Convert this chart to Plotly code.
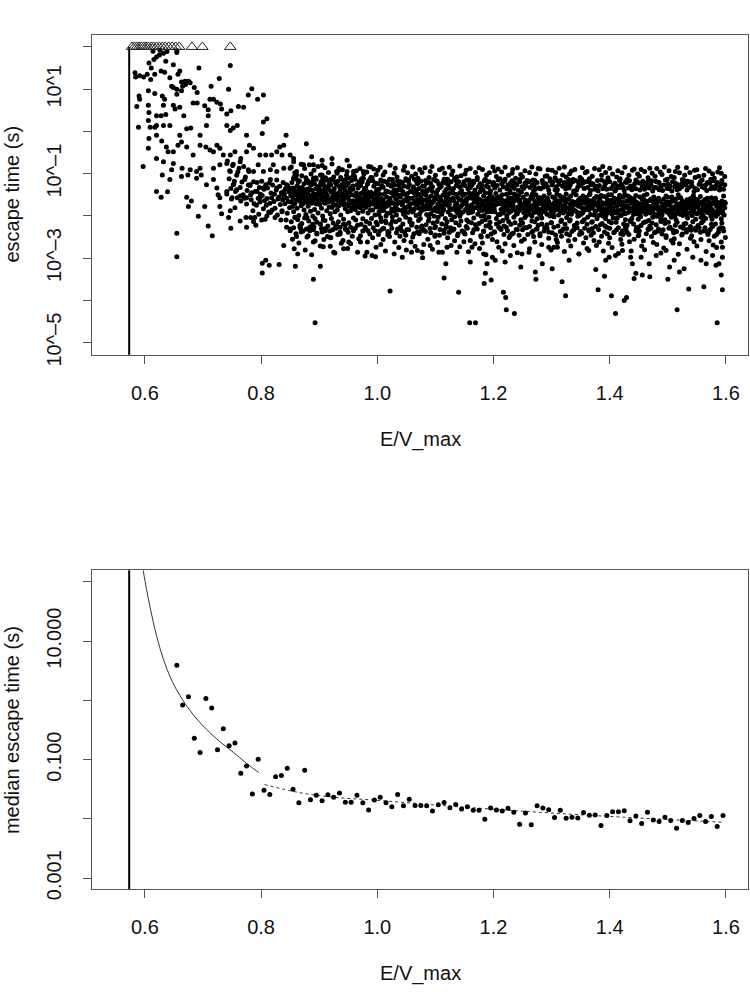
import plotly.graph_objects as go

# ---------------------------------------------------------------- data
THRESHOLD = 0.573            # E/V_max of the vertical reference line
CENSOR_T = 100.0             # escape time assigned to runs that never escaped

censored_x = [0.578, 0.582, 0.586, 0.590, 0.594, 0.598, 0.602, 0.606, 0.611,
              0.615, 0.620, 0.625, 0.630, 0.635, 0.641, 0.647, 0.653, 0.659,
              0.681, 0.699, 0.747]

# individually read runs in the sparse part: (E/V_max, log10 escape time)
sparse_runs = [
    (0.607, 1.62), (0.6155, 1.70), (0.620, 1.76), (0.625, 1.81), (0.632, 1.85), (0.636, 1.66),
    (0.611, 1.50), (0.655, 1.87), (0.649, 1.58), (0.747, 1.56), (0.693, 1.50),
    (0.614, 1.90), (0.626, 1.92), (0.638, 1.89), (0.655, 1.91),
    (0.583, 1.39), (0.584, 1.29), (0.591, 1.32), (0.598, 1.29), (0.604, 1.35), (0.610, 1.23),
    (0.617, 1.35), (0.628, 1.43), (0.634, 1.40), (0.643, 1.27), (0.660, 1.43), (0.657, 1.35),
    (0.663, 1.17), (0.669, 1.19), (0.675, 1.19), (0.678, 1.15), (0.728, 1.25), (0.665, 1.07),
    (0.649, 1.04), (0.646, 1.07), (0.655, 1.00), (0.655, 0.88), (0.663, 0.96), (0.670, 1.11),
    (0.685, 1.04), (0.690, 0.92), (0.714, 1.07), (0.718, 0.76), (0.744, 1.00), (0.778, 0.86),
    (0.784, 1.01), (0.804, 0.86), (0.794, 0.76), (0.590, 0.84), (0.591, 0.76), (0.606, 0.96),
    (0.617, 0.90), (0.630, 0.84),
    (0.586, 0.59), (0.606, 0.62), (0.607, 0.45), (0.620, 0.37), (0.628, 0.37), (0.632, 0.62),
    (0.634, 0.76), (0.636, 0.40), (0.649, 0.62), (0.652, 0.53), (0.660, 0.57), (0.667, 0.37),
    (0.683, 0.67), (0.690, 0.67), (0.703, 0.61), (0.709, 0.51), (0.712, 0.76), (0.724, 0.69),
    (0.730, 0.65), (0.732, 0.53), (0.741, 0.41), (0.748, 0.49), (0.761, 0.59), (0.770, 0.57),
    (0.709, 0.37),
    (0.589, 0.10), (0.606, 0.26), (0.609, 0.10), (0.617, 0.10), (0.620, 0.14), (0.632, 0.14),
    (0.643, 0.14), (0.660, -0.09), (0.672, 0.06), (0.679, 0.08), (0.695, -0.09), (0.706, 0.14),
    (0.741, 0.14), (0.752, 0.08), (0.759, 0.14), (0.747, 0.02), (0.775, -0.09), (0.804, 0.22),
    (0.810, 0.30), (0.802, -0.05), (0.843, -0.09),
    (0.607, -0.17), (0.606, -0.40), (0.620, -0.09), (0.629, -0.23), (0.637, -0.37), (0.640, -0.48),
    (0.649, -0.48), (0.657, -0.33), (0.663, -0.25), (0.672, -0.37), (0.683, -0.56), (0.695, -0.33),
    (0.705, -0.37), (0.712, -0.44), (0.718, -0.48), (0.724, -0.33), (0.729, -0.40), (0.735, -0.56),
    (0.747, -0.56), (0.755, -0.48), (0.765, -0.64), (0.775, -0.48), (0.780, -0.33), (0.787, -0.40),
    (0.798, -0.56), (0.808, -0.56), (0.818, -0.56), (0.827, -0.48), (0.832, -0.37), (0.839, -0.33),
    (0.878, -0.29), (0.836, -0.56), (0.850, -0.56), (0.856, -0.64),
    (0.597, -0.83), (0.620, -0.64), (0.632, -0.72), (0.649, -0.76), (0.646, -0.91), (0.664, -0.87),
    (0.678, -0.91), (0.689, -0.95), (0.695, -0.87), (0.697, -1.03), (0.718, -0.87), (0.729, -0.79),
    (0.741, -0.76), (0.747, -0.95), (0.752, -0.78), (0.764, -0.72), (0.770, -0.83), (0.778, -0.91),
    (0.787, -0.95), (0.795, -0.79), (0.804, -0.95), (0.816, -0.91), (0.821, -0.79), (0.827, -0.95),
    (0.839, -0.87), (0.850, -0.87), (0.856, -0.72), (0.861, -1.03), (0.873, -0.79), (0.887, -0.60),
    (0.890, -0.79), (0.905, -0.68), (0.922, -0.64), (0.948, -0.68), (0.930, -0.95), (0.936, -0.91),
    (0.948, -0.95), (0.959, -1.03), (0.976, -0.95), (0.985, -0.83),
    (0.630, -1.03), (0.663, -1.07), (0.674, -1.03), (0.689, -1.11), (0.643, -1.14), (0.718, -1.14),
    (0.724, -1.34), (0.726, -1.50), (0.706, -1.26), (0.729, -1.57), (0.741, -1.42), (0.752, -1.26),
    (0.758, -1.38), (0.759, -1.57), (0.764, -1.53), (0.775, -1.57), (0.772, -1.14), (0.781, -1.26),
    (0.793, -1.42), (0.798, -1.57), (0.804, -1.34), (0.816, -1.14), (0.827, -1.34), (0.839, -1.42),
    (0.844, -1.26), (0.856, -1.11), (0.859, -1.50), (0.867, -1.34), (0.873, -1.42), (0.882, -1.22),
    (0.890, -1.57), (0.896, -1.50), (0.902, -1.26), (0.910, -1.38), (0.919, -1.14), (0.925, -1.50),
    (0.930, -1.26), (0.942, -1.57), (0.953, -1.34), (0.962, -1.50), (0.971, -1.26), (0.982, -1.42),
    (0.988, -1.14), (0.890, -1.11), (0.905, -1.03),
    (0.620, -1.42), (0.628, -1.56), (0.639, -1.43), (0.672, -1.56), (0.680, -1.65), (0.675, -1.78),
    (0.692, -2.01), (0.703, -1.78), (0.709, -2.24), (0.716, -2.47), (0.729, -1.78), (0.732, -1.95),
    (0.747, -1.88), (0.744, -2.04), (0.748, -2.29), (0.755, -1.81), (0.764, -2.12), (0.774, -2.04),
    (0.782, -2.04), (0.787, -2.13), (0.775, -2.27), (0.791, -2.22), (0.801, -2.10), (0.810, -2.00),
    (0.816, -1.92), (0.824, -2.04), (0.836, -1.88), (0.844, -2.27), (0.850, -2.35), (0.859, -2.04),
    (0.861, -2.49), (0.867, -2.27), (0.879, -2.04), (0.884, -2.35), (0.890, -2.62), (0.896, -2.43),
    (0.902, -2.20), (0.910, -2.35), (0.919, -2.51), (0.928, -2.27), (0.936, -2.43), (0.942, -2.20),
    (0.951, -2.62), (0.959, -2.35), (0.971, -2.62), (0.982, -2.86), (0.991, -2.94),
    (0.655, -2.41), (0.655, -2.97), (0.839, -2.70), (0.863, -2.90), (0.907, -2.73), (0.925, -2.86),
    (0.942, -2.78), (0.802, -3.12), (0.802, -3.35), (0.808, -3.05), (0.814, -3.17), (0.831, -3.15),
    (0.859, -3.19), (0.902, -3.19), (0.890, -3.50), (0.893, -4.53),
]

# slow / lower-tail runs above E/V_max = 1 : (E/V_max, log10 escape time)
tail_runs = [
    (0.997, -2.97), (1.022, -3.78), (1.115, -3.47), (1.118, -3.13), (1.140, -3.81), (1.159, -4.53),
    (1.169, -4.53), (1.184, -3.60), (1.196, -3.52), (1.217, -3.81), (1.221, -3.93), (1.222, -4.22),
    (1.236, -4.31), (1.273, -3.50), (1.301, -3.25), (1.318, -3.56), (1.324, -3.89), (1.380, -3.75),
    (1.391, -3.43), (1.403, -3.89), (1.410, -4.31), (1.425, -4.00), (1.429, -3.93), (1.442, -3.48),
    (1.456, -3.40), (1.469, -3.44), (1.500, -3.50), (1.516, -4.22), (1.536, -3.73), (1.562, -3.68),
    (1.585, -4.53), (1.594, -3.75), (1.592, -3.40), (1.588, -3.13),
    (1.043, -2.98), (1.059, -2.86), (1.069, -2.82), (1.077, -2.86), (1.091, -2.70), (1.106, -2.86),
    (1.120, -2.74), (1.137, -2.86), (1.160, -3.09), (1.163, -2.74), (1.183, -2.90), (1.186, -3.36),
    (1.189, -3.13), (1.198, -2.98), (1.203, -3.05), (1.220, -3.09), (1.229, -2.94), (1.247, -3.21),
    (1.249, -2.90), (1.261, -2.86), (1.272, -3.33), (1.284, -3.13), (1.295, -2.74), (1.310, -2.74),
    (1.330, -3.05), (1.347, -2.90), (1.364, -2.82), (1.376, -3.27), (1.393, -3.05), (1.399, -2.98),
    (1.410, -2.94), (1.422, -2.82), (1.436, -2.98), (1.439, -3.13), (1.445, -3.36), (1.454, -2.98),
    (1.468, -3.13), (1.480, -2.94), (1.497, -2.82), (1.503, -3.21), (1.511, -3.05), (1.520, -3.33),
    (1.528, -3.25), (1.543, -2.98), (1.557, -3.05), (1.566, -3.13), (1.577, -2.94), (1.583, -3.17),
    (1.594, -2.98), (1.594, -2.74),
]

# dense band, one string per 0.01-wide E/V_max bin.
# token "DNNN": D = offset inside the bin in 0.001 units, NNN = -100*log10(escape time)
band_074_084 = [
    "2070 5112 8135 1148 6093 9160",
    "1081 3125 6142 8104 0157 4118",
    "0096 4133 7120 9150 2087 5165",
    "3108 6140 8127 1158 9095 5172",
    "1128 3162 4145 6188 7119 8171 9204 2150",
    "0142 2175 3121 5158 6196 7133 8167 9149",
    "1118 2152 4183 5137 6164 7208 8126 9175",
    "0159 1134 3191 4122 5170 7146 8157 9186",
    "0127 2166 3149 4182 6139 7115 8198 9160",
    "1155 2130 3173 5145 6190 7162 8121 9151 4210",
    "0148 1171 2136 4158 5194 6129 7166 8143 9181 3210",
]
band_085_099 = [
    "2084 6112 8098 0135 1152 2167 3144 4178 5159 6190 7138 8171 9149 1231 4255 7278",
    "1095 4120 9078 0141 1163 2182 3147 4155 5199 6138 7166 8150 9176 0242 5264 8229",
    "0105 5088 8118 0158 1139 2171 3150 4186 5162 6143 7197 8155 9168 2236 6281 9250",
    "3079 6101 9124 0146 1177 2158 3135 4165 5189 6152 7170 8140 9201 1247 4226 7292",
    "1092 4110 8083 0163 1148 2185 3157 4136 5172 6160 7149 8193 9166 0233 3259 6241",
    "2103 5081 7121 0151 1173 2140 3161 4182 5147 6200 7156 8168 9138 2271 5238 8256",
    "0086 3115 6097 0170 1145 2159 3188 4152 5167 6137 7179 8161 9195 1229 4249 9272",
    "2077 5108 9120 0143 1166 2180 3154 4171 5139 6162 7190 8149 9175 0252 3233 7288",
    "1099 4087 8113 0158 1186 2147 3165 4176 5153 6141 7198 8169 9157 2244 6227 8265",
    "0091 3122 7104 0168 1149 2174 3161 4139 5183 6156 7172 8145 9190 1258 5231 9277",
    "2082 6116 9095 0155 1177 2163 3142 4188 5169 6150 7181 8137 9164 0239 4266 7248",
    "1107 4093 8125 0174 1152 2185 3166 4146 5178 6160 7193 8155 9170 2229 6286 8254",
    "0088 3112 7101 0162 1181 2147 3170 4159 5189 6143 7176 8164 9152 1247 5236 9295",
    "2096 5118 9084 0180 1158 2171 3149 4193 5165 6175 7155 8186 9144 0231 3262 7243",
    "1110 4089 8102 0169 1153 2186 3172 4160 5147 6198 7166 8179 9158 2252 6235 8274",
]
band_100_129 = [
    "1092 5085 8118 0151 1175 2166 3190 4148 5182 6205 7159 8171 9187 0140 3197 2244 6268 9231",
    "0103 3096 7121 0163 1186 2149 3171 4212 5178 6155 7194 8168 9143 1181 5200 0256 4283 8237",
    "2080 6114 9099 0175 1158 2193 3167 4145 5184 6202 7170 8153 9189 2162 7146 1249 5229 9290",
    "1087 4108 8125 0144 1179 2161 3198 4172 5150 6186 7168 8209 9156 3183 6139 0262 3240 7275",
    "0119 5092 7083 0169 1152 2187 3174 4143 5196 6163 7181 8149 9203 4168 8190 2235 6258 9246",
    "2098 4115 9106 0180 1165 2147 3192 4176 5159 6208 7171 8185 9141 1157 5178 0281 4233 8262",
    "1084 6101 8120 0158 1191 2170 3145 4183 5166 6152 7199 8174 9162 2188 7143 1250 5272 9239",
    "0111 3090 7097 0173 1149 2182 3167 4206 5155 6188 7161 8142 9179 3195 6170 2242 6226 8299",
    "2086 5122 9109 0147 1184 2163 3176 4151 5197 6169 7183 8158 9205 4140 8172 0268 3237 7255",
    "1095 4083 8114 0166 1178 2195 3153 4170 5142 6187 7164 8201 9157 1182 5168 1230 5279 9248",
    "0104 3118 7091 0181 1160 2148 3189 4172 5203 6155 7177 8166 9192 2145 6181 0245 4263 8232",
    "2087 6099 9123 0162 1196 2177 3151 4184 5168 6143 7206 8171 9159 3188 7150 2286 5241 9227",
    "1113 4085 8102 0175 1154 2191 3168 4147 5182 6198 7161 8185 9146 4172 8209 1252 4238 7270",
    "0094 5116 7108 0158 1183 2165 3202 4176 5149 6189 7171 8156 9194 1163 6180 0234 3259 8247",
    "2082 4105 9119 0188 1161 2146 3179 4195 5163 6174 7152 8190 9168 2201 5145 2273 6236 9261",
    "1101 3092 8115 0170 1149 2185 3161 4210 5176 6158 7193 8145 9181 3167 7187 1243 5229 7285",
    "0088 6121 9097 0153 1192 2174 3158 4183 5147 6205 7168 8181 9162 4190 8151 0258 4240 8266",
    "2109 5086 7124 0181 1166 2149 3196 4172 5160 6188 7143 8176 9201 1157 5183 2231 6277 9250",
    "1090 4117 8103 0164 1187 2170 3153 4199 5178 6146 7184 8162 9191 2168 6209 1264 3237 7292",
    "0120 3098 9084 0172 1158 2203 3181 4149 5166 6190 7174 8156 9183 3145 7170 0248 5228 8256",
    "2094 5107 8089 0183 1162 2190 3175 4147 5206 6168 7155 8197 9171 1184 4160 2238 6261 9274",
    "1112 4096 7118 0158 1197 2171 3185 4162 5150 6211 7179 8166 9188 2154 6193 1229 5283 8244",
    "0085 6104 9122 0176 1164 2149 3199 4183 5170 6157 7192 8175 9146 3205 7168 0266 4235 7251",
    "2099 3090 8111 0189 1173 2158 3181 4167 5203 6148 7186 8163 9196 4177 8152 2242 5270 9232",
    "1086 5119 7102 0161 1195 2179 3152 4187 5168 6175 7209 8144 9182 1190 5163 1287 4246 8260",
    "0108 4093 9120 0180 1156 2192 3170 4204 5163 6186 7149 8177 9189 2171 6199 0233 3255 7228",
    "2097 6084 8115 0168 1188 2162 3197 4176 5154 6201 7182 8159 9174 3185 7148 2278 6239 9249",
    "1116 3101 7088 0192 1165 2178 3150 4189 5207 6170 7157 8194 9163 4181 8172 1262 5231 8294",
    "0089 5123 9106 0157 1184 2169 3205 4162 5191 6177 7153 8188 9170 1198 4165 0247 3268 7236",
    "2105 4091 8118 0185 1171 2196 3158 4180 5166 6147 7200 8174 9189 2162 6182 2229 5253 9281",
]
band_130_159 = [
    "1092 6110 7097 0173 1190 2155 3183 4202 5168 6159 7186 8171 9148 3193 7177 1240 4274 8256",
    "0117 3087 9103 0166 1181 2198 3164 4152 5189 6175 7210 8163 9184 4170 8156 0263 5237 7248",
    "2084 5108 8121 0193 1157 2177 3189 4169 5148 6204 7181 8160 9195 1178 5166 2284 6230 9259",
    "1100 4094 7114 0160 1185 2172 3153 4196 5179 6166 7188 8145 9172 2209 6183 1245 3271 8233",
    "0090 6119 9109 0187 1168 2150 3191 4175 5201 6163 7177 8193 9158 3169 7199 0256 4228 7290",
    "2113 3086 8098 0171 1196 2181 3164 4153 5187 6209 7170 8156 9182 4192 8163 2241 5264 9252",
    "1095 5112 7122 0159 1180 2203 3172 4186 5164 6148 7197 8178 9167 1185 5150 1277 4235 8246",
    "0106 4088 9116 0182 1163 2175 3198 4158 5190 6172 7154 8207 9176 2166 6188 0230 3258 7270",
    "2091 6104 8083 0168 1199 2185 3161 4177 5152 6194 7182 8169 9201 3157 7175 2262 6248 9283",
    "1119 3097 7110 0190 1154 2172 3207 4183 5169 6161 7192 8150 9179 4198 8166 1238 5227 8265",
    "0087 5101 9123 0175 1188 2163 3150 4196 5181 6205 7170 8158 9191 1168 4184 0252 4275 7240",
    "2108 4093 8112 0161 1193 2178 3205 4172 5159 6187 7151 8198 9174 2189 6163 2233 5289 9256",
    "1098 6085 7120 0199 1167 2183 3156 4191 5176 6149 7209 8180 9165 3172 7195 1267 3244 8230",
    "0114 3104 9092 0176 1153 2192 3181 4165 5211 6188 7170 8159 9187 4155 8206 0239 4261 7283",
    "2089 5115 8101 0170 1197 2160 3185 4178 5152 6195 7184 8169 9208 1180 5167 2255 6228 9247",
    "1106 4090 7118 0193 1177 2155 3202 4186 5171 6161 7190 8175 9152 2199 6183 1236 5271 8259",
    "0095 6110 9087 0163 1182 2196 3173 4149 5188 6177 7211 8164 9193 3168 7178 0280 3242 7232",
    "2117 3099 8106 0185 1160 2178 3191 4203 5167 6155 7182 8197 9172 4189 8160 2249 5263 9238",
    "1088 5121 7096 0177 1201 2165 3184 4158 5192 6180 7166 8206 9185 1174 4196 1268 4231 8288",
    "0102 4084 9113 0198 1172 2188 3160 4176 5209 6183 7153 8191 9168 2181 6170 0243 3276 7251",
    "2093 6107 8119 0156 1190 2174 3197 4185 5167 6203 7179 8162 9194 3188 7155 2229 6258 9264",
    "1109 3095 7085 0183 1165 2201 3178 4160 5194 6172 7187 8150 9181 4209 8173 1254 5237 8291",
    "0098 5114 9104 0171 1196 2157 3186 4178 5164 6199 7168 8193 9176 1157 5184 0266 4245 7229",
    "2086 4118 8097 0189 1170 2183 3162 4205 5181 6166 7194 8174 9159 2197 6167 2238 3279 9253",
    "1120 6092 7109 0164 1187 2199 3175 4152 5190 6181 7168 8208 9173 3182 7160 1247 5261 8234",
    "0091 3106 9115 0195 1162 2178 3192 4186 5170 6154 7203 8167 9185 4171 8194 0271 4228 7256",
    "2104 5088 8121 0172 1199 2166 3184 4161 5206 6189 7175 8158 9192 1178 5163 2236 6284 9244",
    "1094 4113 7100 0181 1168 2193 3176 4200 5157 6185 7172 8197 9164 2186 6208 1259 3232 8269",
    "0111 6096 9086 0167 1190 2158 3201 4178 5172 6196 7183 8169 9187 3165 7191 0248 4275 7239",
    "2099 3116 8107 0184 1174 2207 3165 4189 5176 6153 7198 8181 9170 4194 8168 2262 5229 9251",
]
# further runs sitting just above and just below the dense core (same encoding)
fringe_085_099 = [
    "3121 5134 9112 7108 2214 6228 8203", "2129 6117 8140 0111 3209 7222 9238",
    "1133 4124 7110 9137 0218 5205 8231", "0116 3138 6127 8119 2212 4233 9220",
    "2124 5113 7131 9140 1226 3207 6215", "0135 3120 6112 8128 2219 4230 7209",
    "1110 4133 7125 9118 0211 5224 8236", "0127 3114 6136 8121 1206 4217 9229",
    "2118 5131 7109 9126 0223 3214 6239", "1132 4115 6128 8111 2208 5221 7233",
    "0123 3137 5110 8129 1216 4227 9205", "2113 5126 7134 9119 0231 3210 6222",
    "1128 4119 6111 8135 2220 5207 9226", "0134 3125 6116 9109 1213 4235 7218",
    "2117 4130 7122 9138 0206 3228 8215",
]
fringe_100_129 = [
    "1124 3137 6115 8129 0221 4236 7213", "0132 2118 5141 9126 1229 5216 8245",
    "1113 4130 7122 9139 0239 3220 6212", "0127 2140 5117 8133 2214 5231 9248",
    "1138 3121 6129 9112 0226 4219 7240", "0116 3132 5125 7142 1233 6214 9222",
    "2131 4113 7138 9124 0218 3242 8227", "0122 2135 5118 8130 1211 5236 7224",
    "1129 3116 6141 9121 0233 4221 8212", "0136 2124 5131 7114 2240 6217 9228",
    "1117 4139 6125 8133 0225 3213 7246", "0130 3121 5113 9137 1219 5234 8222",
    "2126 4134 7119 9142 0214 4239 6228", "1135 3111 6128 8123 2231 5216 9243",
    "0119 2132 5140 7127 1222 4212 8237", "1128 4115 6136 9124 0241 3225 7214",
    "0133 3126 5118 8139 2216 6233 9221", "2114 4131 7125 9136 1229 5218 8247",
    "0127 2138 6113 8129 0213 3236 7224", "1132 3119 5141 9126 2222 4215 6243",
    "0121 2134 6128 8115 1238 5219 9227", "1139 4124 7131 9118 0215 3232 8224",
    "0113 3136 5127 8140 2227 6213 9246", "1130 2117 6135 7123 0220 4241 7216",
    "0126 3140 5114 9131 1233 5222 8214", "2135 4122 6129 8116 0217 3228 9244",
    "1118 3133 7126 9141 2225 6212 8236", "0129 2137 5121 8134 1214 4231 7222",
    "1136 4116 6132 9125 0242 3219 8228", "0124 3131 5139 7112 2221 5238 9216",
]
fringe_130_159 = [
    "1127 2120 6138 8131 0216 4227 7245", "0138 3125 5116 9130 1224 6213 8235",
    "2121 4136 7129 9114 0231 3220 6242", "0134 2127 6120 8141 1212 5237 9223",
    "1116 3139 5132 7125 2226 4217 8244", "0128 4122 6135 9119 0237 3214 7229",
    "2133 3118 7140 8126 1220 5233 9215", "1124 4137 5129 9132 0214 2240 6225",
    "0141 2128 6115 8136 1232 4221 7218", "1130 3123 5137 7114 2224 6243 9213",
    "0119 2135 6128 9141 0229 3216 8238", "1137 4129 7116 8133 1215 5228 9242",
    "0125 3132 5140 9121 2236 4219 7226", "2134 4117 6129 8138 0222 3244 6213",
    "0130 3124 5136 7119 1219 5235 9227", "1122 2139 6131 9127 0245 4223 8216",
    "0137 3128 5120 8134 2214 6231 9224", "1126 4141 7133 9118 1229 3217 7240",
    "0133 2120 5138 8129 0221 4236 8213", "1140 3127 6115 9135 2233 5218 7247",
    "0124 2136 4129 7141 1215 4227 9234", "2131 3122 6138 8126 0240 3222 6215",
    "0136 4131 5123 9117 2226 5243 8219", "1127 3139 6133 7120 1218 4232 9225",
    "0121 2130 5142 8135 0234 3214 7229", "1138 4125 6119 9131 2223 6239 8216",
    "0129 3134 5127 7140 1212 4228 9241", "2123 4136 6131 8117 0237 5220 7225",
    "1135 3128 5121 9139 2219 4244 8231", "0132 2124 6137 8126 1228 3217 6236",
]

# medians of escape time per energy bin (bottom panel)
median_x = [0.655, 0.665, 0.675, 0.685, 0.695, 0.705, 0.715, 0.725, 0.735, 0.745,
            0.755, 0.765, 0.775, 0.785, 0.795, 0.805, 0.815, 0.825, 0.835, 0.845,
            0.855, 0.865, 0.875, 0.885, 0.895, 0.905, 0.915, 0.925, 0.935, 0.945,
            0.955, 0.965, 0.975, 0.985, 0.995, 1.005, 1.015, 1.025, 1.035, 1.045,
            1.055, 1.065, 1.075, 1.085, 1.095, 1.105, 1.115, 1.125, 1.135, 1.145,
            1.155, 1.165, 1.175, 1.185, 1.195, 1.205, 1.215, 1.225, 1.235, 1.245,
            1.255, 1.265, 1.275, 1.285, 1.295, 1.305, 1.315, 1.325, 1.335, 1.345,
            1.355, 1.365, 1.375, 1.385, 1.395, 1.405, 1.415, 1.425, 1.435, 1.445,
            1.455, 1.465, 1.475, 1.485, 1.495, 1.505, 1.515, 1.525, 1.535, 1.545,
            1.555, 1.565, 1.575, 1.585, 1.595]
median_log = [0.594, -0.078, 0.061, -0.639, -0.878, 0.033, -0.128, -0.833, -0.478, -0.767,
              -0.717, -1.228, -1.106, -1.578, -0.994, -1.517, -1.589, -1.289, -1.267, -1.144,
              -1.50, -1.728, -1.178, -1.678, -1.60, -1.694, -1.594, -1.633, -1.561, -1.717,
              -1.717, -1.60, -1.728, -1.85, -1.683,
              -1.633, -1.728, -1.794, -1.589, -1.778, -1.667, -1.772, -1.772, -1.778, -1.867,
              -1.761, -1.722, -1.811, -1.756, -1.833, -1.794, -1.856, -1.856, -2.006, -1.817,
              -1.85, -1.867, -1.822, -1.889, -2.089, -1.90, -2.10, -1.778, -1.817, -1.844,
              -1.978, -1.856, -1.989, -1.972, -1.983, -1.894, -1.939, -1.933, -2.111, -1.944,
              -1.878, -1.878, -1.861, -2.033, -1.95, -2.078, -1.889, -2.017, -2.044, -1.972,
              -2.028, -2.156, -2.028, -2.061, -1.994, -1.944, -2.044, -1.961, -2.128, -1.944]

# fitted curves
fit_low_x = [0.5971, 0.6029, 0.6097, 0.6200, 0.6315, 0.6458, 0.6630, 0.6830, 0.7060,
             0.7289, 0.7518, 0.7747, 0.7959]
fit_low_log = [2.194, 1.872, 1.539, 1.094, 0.706, 0.344, 0.039, -0.239, -0.489,
               -0.694, -0.872, -1.061, -1.217]
fit_high_x = [0.806, 0.866, 0.924, 0.995, 1.138, 1.281, 1.425, 1.596]
fit_high_log = [-1.422, -1.556, -1.633, -1.683, -1.794, -1.889, -1.972, -2.056]

top_tick_exp = [-5, -4, -3, -2, -1, 0, 1, 2]
top_tick_text = ["10^–5", "", "10^–3", "", "10^–1", "", "10^1", ""]
bot_tick_exp = [-3, -2, -1, 0, 1, 2]
bot_tick_text = ["0.001", "", "0.100", "", "10.000", ""]
x_ticks = [0.6, 0.8, 1.0, 1.2, 1.4, 1.6]
x_tick_text = ["0.6", "0.8", "1.0", "1.2", "1.4", "1.6"]


# ---------------------------------------------------------------- assemble
def decode_band(first_bin, rows):
    xs, ts = [], []
    for i, row in enumerate(rows):
        b = first_bin + i * 0.01
        for tok in row.split():
            xs.append(round(b + int(tok[0]) / 1000, 4))
            ts.append(10 ** (-int(tok[1:]) / 100))
    return xs, ts


run_x, run_t = [], []
for px, pl in sparse_runs + tail_runs:
    run_x.append(px)
    run_t.append(10 ** pl)
for start, rows in [(0.74, band_074_084), (0.85, band_085_099),
                    (1.00, band_100_129), (1.30, band_130_159),
                    (0.85, fringe_085_099), (1.00, fringe_100_129),
                    (1.30, fringe_130_159)]:
    bx, bt = decode_band(start, rows)
    run_x += bx
    run_t += bt

FONT = "Liberation Sans, Arial, Helvetica, sans-serif"
INK = "#111111"
FRAME = "#555555"
FS = 20

fig = go.Figure()

# top panel
fig.add_trace(go.Scatter(x=[THRESHOLD, THRESHOLD], y=[1e-7, CENSOR_T], mode="lines",
                         line=dict(color="black", width=2), xaxis="x", yaxis="y",
                         showlegend=False, hoverinfo="skip"))
fig.add_trace(go.Scatter(x=run_x, y=run_t, mode="markers",
                         marker=dict(color="black", size=5, line=dict(width=0)),
                         xaxis="x", yaxis="y", showlegend=False))
fig.add_trace(go.Scatter(x=censored_x, y=[CENSOR_T] * len(censored_x), mode="markers",
                         marker=dict(symbol="triangle-up-open", size=10, color="#222",
                                     line=dict(width=1)),
                         xaxis="x", yaxis="y", showlegend=False, cliponaxis=False))

# bottom panel
fig.add_trace(go.Scatter(x=[THRESHOLD, THRESHOLD], y=[1e-5, 1e4], mode="lines",
                         line=dict(color="black", width=2), xaxis="x2", yaxis="y2",
                         showlegend=False, hoverinfo="skip"))
fig.add_trace(go.Scatter(x=fit_low_x, y=[10 ** v for v in fit_low_log], mode="lines",
                         line=dict(color="#333", width=1, shape="spline"),
                         xaxis="x2", yaxis="y2", showlegend=False))
fig.add_trace(go.Scatter(x=fit_high_x, y=[10 ** v for v in fit_high_log], mode="lines",
                         line=dict(color="#333", width=1, dash="dot", shape="spline"),
                         xaxis="x2", yaxis="y2", showlegend=False))
fig.add_trace(go.Scatter(x=median_x, y=[10 ** v for v in median_log], mode="markers",
                         marker=dict(color="black", size=5, line=dict(width=0)),
                         xaxis="x2", yaxis="y2", showlegend=False))

W, H = 750.0, 993.0
XDOM = [92 / W, 748 / W]
top_dom = [1 - 359 / H, 1 - 35 / H]
bot_dom = [1 - 900.3 / H, 1 - 577.3 / H]

xcommon = dict(range=[0.509, 1.638], tickvals=x_ticks, ticktext=x_tick_text,
               ticks="outside", ticklen=8, tickcolor=FRAME, showline=True, mirror=True,
               linecolor=FRAME, linewidth=1, showgrid=False, zeroline=False,
               tickfont=dict(family=FONT, size=FS, color=INK), ticklabelstandoff=12)
ycommon = dict(type="log", ticks="outside", ticklen=8, tickcolor=FRAME, showline=True,
               mirror=True, linecolor=FRAME, linewidth=1, showgrid=False, zeroline=False,
               tickangle=-90, tickfont=dict(family=FONT, size=FS, color=INK),
               ticklabelstandoff=14)

fig.update_layout(
    width=750, height=993, margin=dict(l=0, r=0, t=0, b=0),
    paper_bgcolor="white", plot_bgcolor="white", showlegend=False,
    xaxis=dict(domain=XDOM, anchor="y", **xcommon),
    yaxis=dict(domain=top_dom, anchor="x", range=[-5.285, 2.292],
               tickvals=[10 ** e for e in top_tick_exp], ticktext=top_tick_text, **ycommon),
    xaxis2=dict(domain=XDOM, anchor="y2", **xcommon),
    yaxis2=dict(domain=bot_dom, anchor="x2", range=[-3.19, 2.195],
                tickvals=[10 ** e for e in bot_tick_exp], ticktext=bot_tick_text, **ycommon),
    annotations=[
        dict(text="escape time (s)", x=12 / W, y=1 - 197 / H, xref="paper", yref="paper",
             textangle=-90, showarrow=False, xanchor="center", yanchor="middle",
             font=dict(family=FONT, size=FS, color=INK)),
        dict(text="E/V_max", x=420 / W, y=1 - 445 / H, xref="paper", yref="paper",
             showarrow=False, xanchor="center", yanchor="middle",
             font=dict(family=FONT, size=FS, color=INK)),
        dict(text="median escape time (s)", x=12 / W, y=1 - 739 / H, xref="paper",
             yref="paper", textangle=-90, showarrow=False, xanchor="center",
             yanchor="middle", font=dict(family=FONT, size=FS, color=INK)),
        dict(text="E/V_max", x=420 / W, y=1 - 985 / H, xref="paper", yref="paper",
             showarrow=False, xanchor="center", yanchor="middle",
             font=dict(family=FONT, size=FS, color=INK)),
    ],
)

fig.write_html("out.html", config={"displayModeBar": False},
               post_script="document.body.style.margin = '0';")
